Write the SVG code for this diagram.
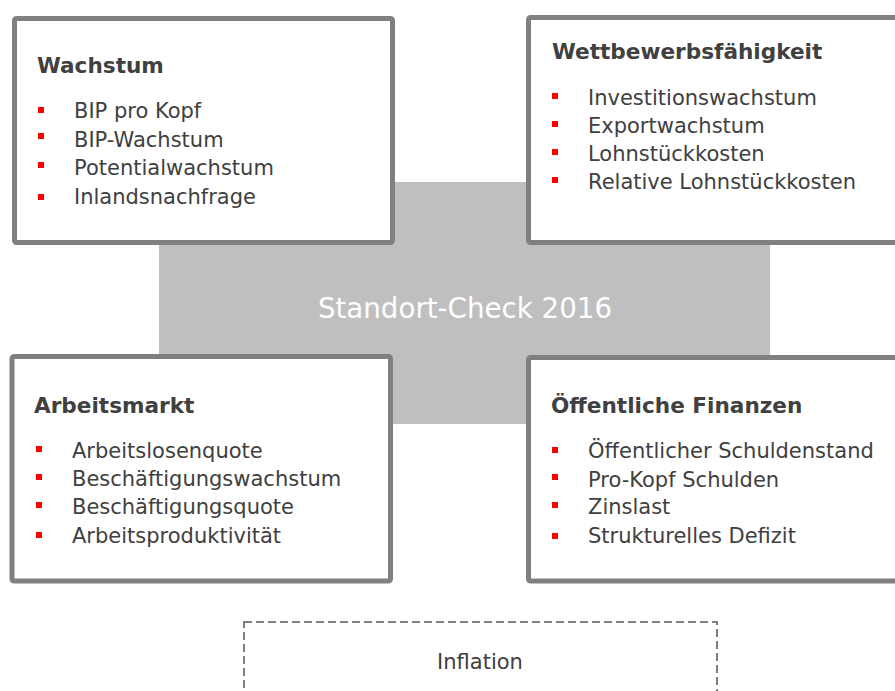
<svg xmlns="http://www.w3.org/2000/svg" width="895" height="691" viewBox="0 0 895 691">
  <style>
    text { font-family: "DejaVu Sans", "Liberation Sans", sans-serif; fill: #404040; }
    .title { font-size: 21.6px; font-weight: bold; }
    .item { font-size: 21px; }
    .box { fill: #ffffff; stroke: #808080; stroke-width: 5; }
    .bullet { fill: #ff0000; }
    .center-text { font-size: 27.7px; fill: #ffffff; }
  </style>
  <rect width="895" height="691" fill="#ffffff"/>

  <g id="standort-check">
    <rect x="159" y="182" width="611" height="242" fill="#bfbfbf"/>
    <text class="center-text" x="465" y="318" text-anchor="middle">Standort-Check 2016</text>
  </g>

  <g id="connectors"/>

  <g id="wachstum">
    <rect class="box" x="14.5" y="18.5" width="378" height="224" rx="2"/>
    <text class="title" x="37" y="73">Wachstum</text>
    <rect class="bullet" x="38" y="107" width="6" height="6"/>
    <rect class="bullet" x="38" y="133" width="6" height="6"/>
    <rect class="bullet" x="38" y="162" width="6" height="6"/>
    <rect class="bullet" x="38" y="194" width="6" height="6"/>
    <text class="item" x="74" y="118">BIP pro Kopf</text>
    <text class="item" x="74" y="147">BIP-Wachstum</text>
    <text class="item" x="74" y="175">Potentialwachstum</text>
    <text class="item" x="74" y="204">Inlandsnachfrage</text>
  </g>

  <g id="wettbewerbsfaehigkeit">
    <rect class="box" x="528.5" y="17.5" width="400" height="225" rx="2"/>
    <text class="title" x="552" y="59">Wettbewerbsfähigkeit</text>
    <rect class="bullet" x="552" y="93" width="6" height="6"/>
    <rect class="bullet" x="552" y="121" width="6" height="6"/>
    <rect class="bullet" x="552" y="149" width="6" height="6"/>
    <rect class="bullet" x="552" y="177" width="6" height="6"/>
    <text class="item" x="588" y="105">Investitionswachstum</text>
    <text class="item" x="588" y="133">Exportwachstum</text>
    <text class="item" x="588" y="161">Lohnstückkosten</text>
    <text class="item" x="588" y="189">Relative Lohnstückkosten</text>
  </g>

  <g id="arbeitsmarkt">
    <rect class="box" x="12" y="356.5" width="378.5" height="224.5" rx="2"/>
    <text class="title" x="34" y="413">Arbeitsmarkt</text>
    <rect class="bullet" x="36" y="446" width="6" height="6"/>
    <rect class="bullet" x="36" y="474" width="6" height="6"/>
    <rect class="bullet" x="36" y="502" width="6" height="6"/>
    <rect class="bullet" x="36" y="532" width="6" height="6"/>
    <text class="item" x="72" y="458">Arbeitslosenquote</text>
    <text class="item" x="72" y="486">Beschäftigungswachstum</text>
    <text class="item" x="72" y="514">Beschäftigungsquote</text>
    <text class="item" x="72" y="543">Arbeitsproduktivität</text>
  </g>

  <g id="oeffentliche-finanzen">
    <rect class="box" x="528.5" y="357.5" width="400" height="223.5" rx="2"/>
    <text class="title" x="551" y="413">Öffentliche Finanzen</text>
    <rect class="bullet" x="552" y="447" width="6" height="6"/>
    <rect class="bullet" x="552" y="474" width="6" height="6"/>
    <rect class="bullet" x="552" y="502" width="6" height="6"/>
    <rect class="bullet" x="552" y="533" width="6" height="6"/>
    <text class="item" x="588" y="458">Öffentlicher Schuldenstand</text>
    <text class="item" x="588" y="487">Pro-Kopf Schulden</text>
    <text class="item" x="588" y="514">Zinslast</text>
    <text class="item" x="588" y="543">Strukturelles Defizit</text>
  </g>

  <g id="inflation">
    <rect x="244" y="622" width="473" height="100" fill="none" stroke="#808080" stroke-width="2" stroke-dasharray="8 4"/>
    <text class="item" x="480" y="669" text-anchor="middle">Inflation</text>
  </g>
</svg>
